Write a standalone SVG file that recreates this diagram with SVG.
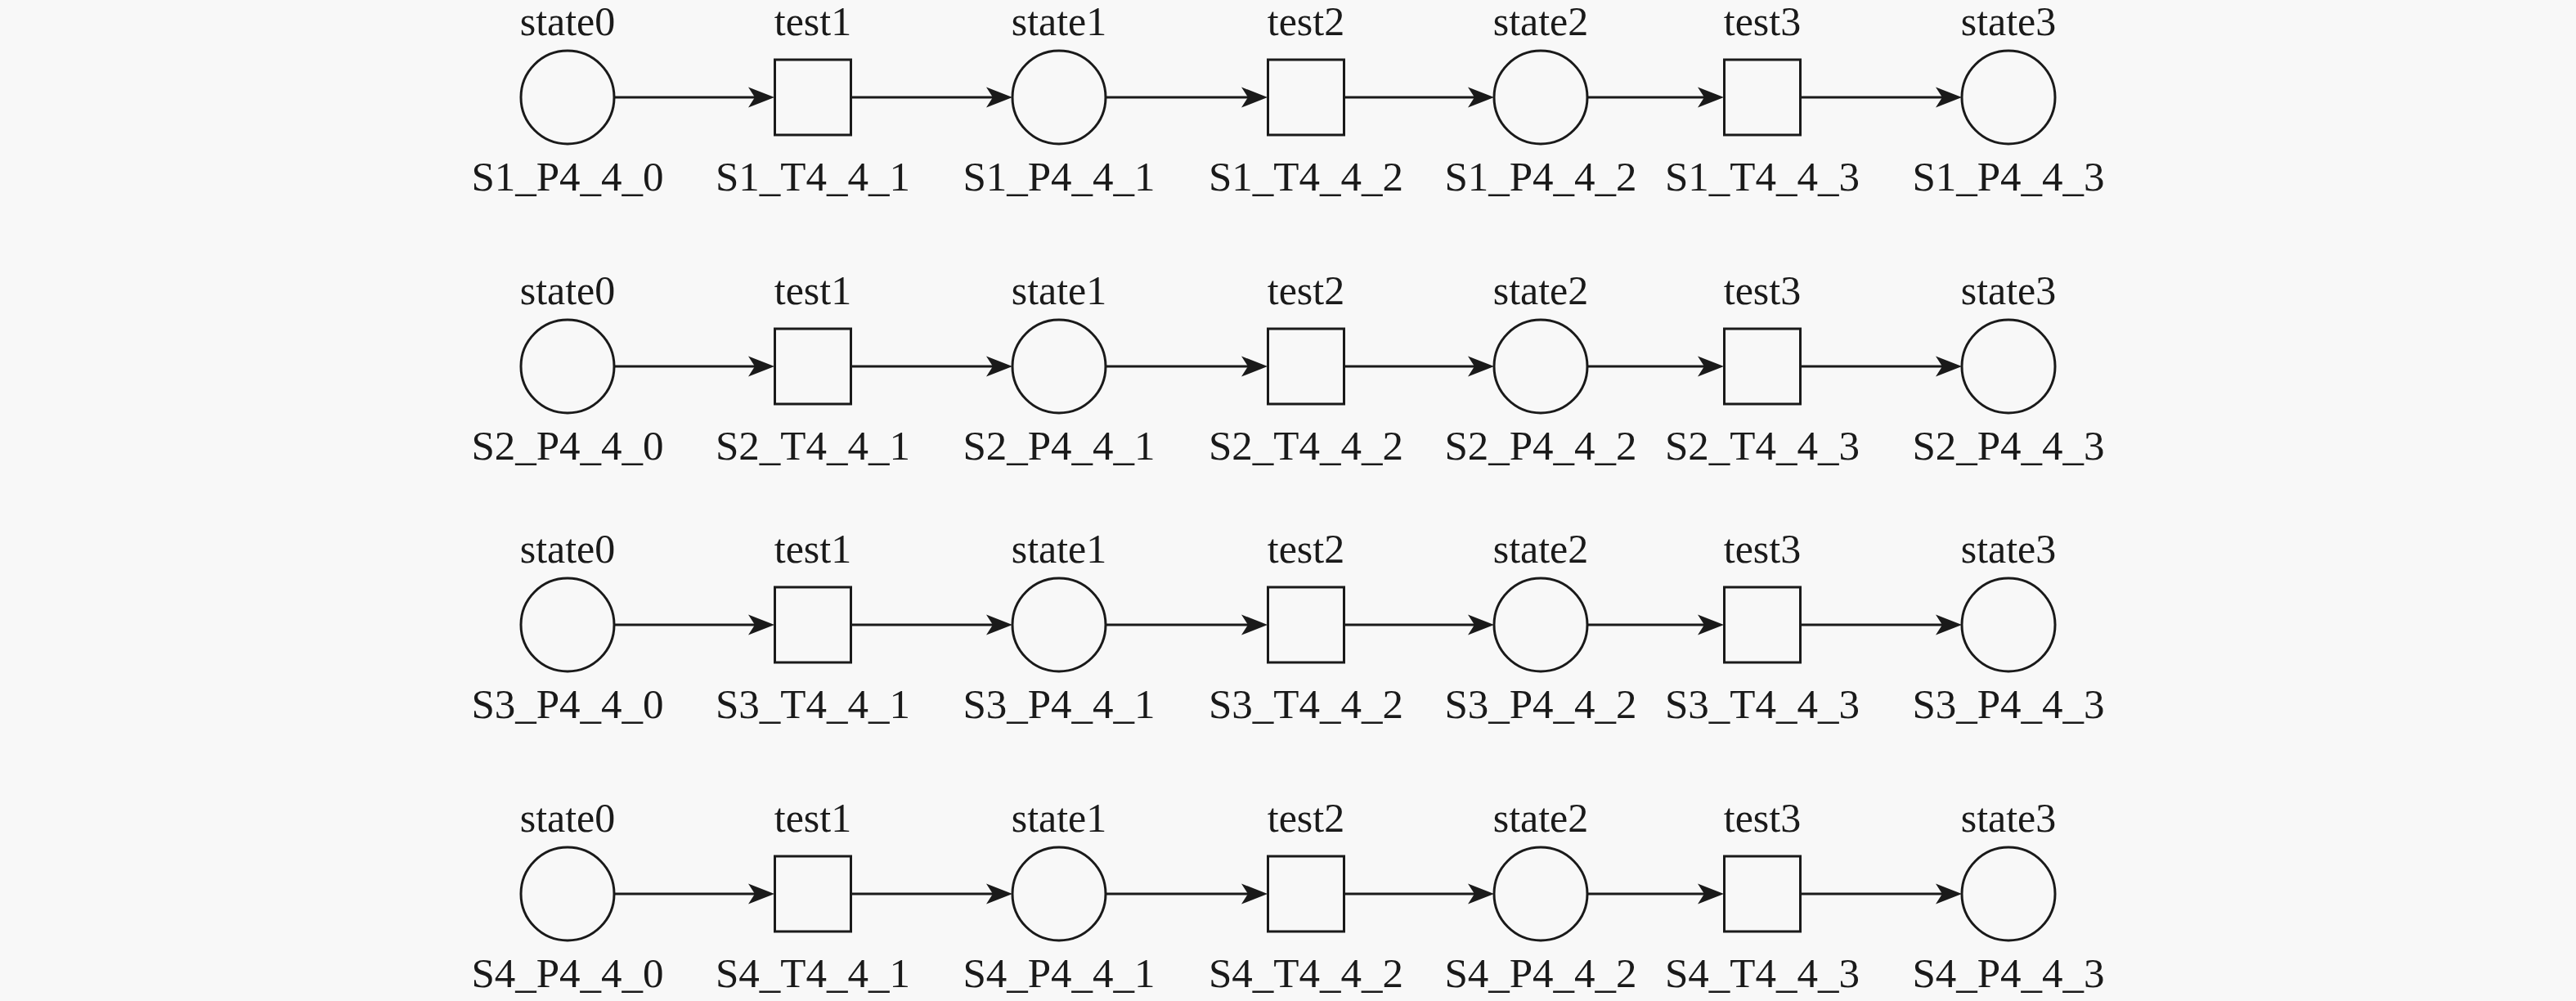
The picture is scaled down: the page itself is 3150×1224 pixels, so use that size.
<svg xmlns="http://www.w3.org/2000/svg" width="3150" height="1224" viewBox="0 0 3150 1224">
<style>
.bg{fill:#f8f8f8}
.place{fill:none;stroke:#1a1a1a;stroke-width:3}
.trans{fill:none;stroke:#1a1a1a;stroke-width:3}
.edge{stroke:#1a1a1a;stroke-width:3;fill:none}
text{font-family:"Liberation Serif","Times New Roman",serif;fill:#1a1a1a;text-anchor:middle}
.top{font-size:50px}
.bot{font-size:51px}
</style>
<defs>
<marker id="arr" markerUnits="userSpaceOnUse" markerWidth="34" markerHeight="27" refX="12" refY="12.5" orient="auto" overflow="visible">
<path d="M0,0 L32,12.5 L0,25 L8,12.5 Z" fill="#1a1a1a"/>
</marker>
</defs>
<rect class="bg" x="0" y="0" width="3150" height="1224"/>

<g id="connectors">
<line class="edge" x1="751" y1="119" x2="927" y2="119" marker-end="url(#arr)"/>
<line class="edge" x1="1040" y1="119" x2="1218" y2="119" marker-end="url(#arr)"/>
<line class="edge" x1="1352" y1="119" x2="1530" y2="119" marker-end="url(#arr)"/>
<line class="edge" x1="1643" y1="119" x2="1807" y2="119" marker-end="url(#arr)"/>
<line class="edge" x1="1941" y1="119" x2="2088" y2="119" marker-end="url(#arr)"/>
<line class="edge" x1="2201" y1="119" x2="2379" y2="119" marker-end="url(#arr)"/>

<line class="edge" x1="751" y1="448" x2="927" y2="448" marker-end="url(#arr)"/>
<line class="edge" x1="1040" y1="448" x2="1218" y2="448" marker-end="url(#arr)"/>
<line class="edge" x1="1352" y1="448" x2="1530" y2="448" marker-end="url(#arr)"/>
<line class="edge" x1="1643" y1="448" x2="1807" y2="448" marker-end="url(#arr)"/>
<line class="edge" x1="1941" y1="448" x2="2088" y2="448" marker-end="url(#arr)"/>
<line class="edge" x1="2201" y1="448" x2="2379" y2="448" marker-end="url(#arr)"/>

<line class="edge" x1="751" y1="764" x2="927" y2="764" marker-end="url(#arr)"/>
<line class="edge" x1="1040" y1="764" x2="1218" y2="764" marker-end="url(#arr)"/>
<line class="edge" x1="1352" y1="764" x2="1530" y2="764" marker-end="url(#arr)"/>
<line class="edge" x1="1643" y1="764" x2="1807" y2="764" marker-end="url(#arr)"/>
<line class="edge" x1="1941" y1="764" x2="2088" y2="764" marker-end="url(#arr)"/>
<line class="edge" x1="2201" y1="764" x2="2379" y2="764" marker-end="url(#arr)"/>

<line class="edge" x1="751" y1="1093" x2="927" y2="1093" marker-end="url(#arr)"/>
<line class="edge" x1="1040" y1="1093" x2="1218" y2="1093" marker-end="url(#arr)"/>
<line class="edge" x1="1352" y1="1093" x2="1530" y2="1093" marker-end="url(#arr)"/>
<line class="edge" x1="1643" y1="1093" x2="1807" y2="1093" marker-end="url(#arr)"/>
<line class="edge" x1="1941" y1="1093" x2="2088" y2="1093" marker-end="url(#arr)"/>
<line class="edge" x1="2201" y1="1093" x2="2379" y2="1093" marker-end="url(#arr)"/>
</g>

<!-- Row 1 -->
<g id="S1_P4_4_0"><circle class="place" cx="694" cy="119" r="57"/><text class="top" x="694" y="43">state0</text><text class="bot" x="694" y="233">S1_P4_4_0</text></g>
<g id="S1_T4_4_1"><rect class="trans" x="947.5" y="73" width="93" height="92"/><text class="top" x="994" y="43">test1</text><text class="bot" x="994" y="233">S1_T4_4_1</text></g>
<g id="S1_P4_4_1"><circle class="place" cx="1295" cy="119" r="57"/><text class="top" x="1295" y="43">state1</text><text class="bot" x="1295" y="233">S1_P4_4_1</text></g>
<g id="S1_T4_4_2"><rect class="trans" x="1550.5" y="73" width="93" height="92"/><text class="top" x="1597" y="43">test2</text><text class="bot" x="1597" y="233">S1_T4_4_2</text></g>
<g id="S1_P4_4_2"><circle class="place" cx="1884" cy="119" r="57"/><text class="top" x="1884" y="43">state2</text><text class="bot" x="1884" y="233">S1_P4_4_2</text></g>
<g id="S1_T4_4_3"><rect class="trans" x="2108.5" y="73" width="93" height="92"/><text class="top" x="2155" y="43">test3</text><text class="bot" x="2155" y="233">S1_T4_4_3</text></g>
<g id="S1_P4_4_3"><circle class="place" cx="2456" cy="119" r="57"/><text class="top" x="2456" y="43">state3</text><text class="bot" x="2456" y="233">S1_P4_4_3</text></g>

<!-- Row 2 -->
<g id="S2_P4_4_0"><circle class="place" cx="694" cy="448" r="57"/><text class="top" x="694" y="372">state0</text><text class="bot" x="694" y="562">S2_P4_4_0</text></g>
<g id="S2_T4_4_1"><rect class="trans" x="947.5" y="402" width="93" height="92"/><text class="top" x="994" y="372">test1</text><text class="bot" x="994" y="562">S2_T4_4_1</text></g>
<g id="S2_P4_4_1"><circle class="place" cx="1295" cy="448" r="57"/><text class="top" x="1295" y="372">state1</text><text class="bot" x="1295" y="562">S2_P4_4_1</text></g>
<g id="S2_T4_4_2"><rect class="trans" x="1550.5" y="402" width="93" height="92"/><text class="top" x="1597" y="372">test2</text><text class="bot" x="1597" y="562">S2_T4_4_2</text></g>
<g id="S2_P4_4_2"><circle class="place" cx="1884" cy="448" r="57"/><text class="top" x="1884" y="372">state2</text><text class="bot" x="1884" y="562">S2_P4_4_2</text></g>
<g id="S2_T4_4_3"><rect class="trans" x="2108.5" y="402" width="93" height="92"/><text class="top" x="2155" y="372">test3</text><text class="bot" x="2155" y="562">S2_T4_4_3</text></g>
<g id="S2_P4_4_3"><circle class="place" cx="2456" cy="448" r="57"/><text class="top" x="2456" y="372">state3</text><text class="bot" x="2456" y="562">S2_P4_4_3</text></g>

<!-- Row 3 -->
<g id="S3_P4_4_0"><circle class="place" cx="694" cy="764" r="57"/><text class="top" x="694" y="688">state0</text><text class="bot" x="694" y="878">S3_P4_4_0</text></g>
<g id="S3_T4_4_1"><rect class="trans" x="947.5" y="718" width="93" height="92"/><text class="top" x="994" y="688">test1</text><text class="bot" x="994" y="878">S3_T4_4_1</text></g>
<g id="S3_P4_4_1"><circle class="place" cx="1295" cy="764" r="57"/><text class="top" x="1295" y="688">state1</text><text class="bot" x="1295" y="878">S3_P4_4_1</text></g>
<g id="S3_T4_4_2"><rect class="trans" x="1550.5" y="718" width="93" height="92"/><text class="top" x="1597" y="688">test2</text><text class="bot" x="1597" y="878">S3_T4_4_2</text></g>
<g id="S3_P4_4_2"><circle class="place" cx="1884" cy="764" r="57"/><text class="top" x="1884" y="688">state2</text><text class="bot" x="1884" y="878">S3_P4_4_2</text></g>
<g id="S3_T4_4_3"><rect class="trans" x="2108.5" y="718" width="93" height="92"/><text class="top" x="2155" y="688">test3</text><text class="bot" x="2155" y="878">S3_T4_4_3</text></g>
<g id="S3_P4_4_3"><circle class="place" cx="2456" cy="764" r="57"/><text class="top" x="2456" y="688">state3</text><text class="bot" x="2456" y="878">S3_P4_4_3</text></g>

<!-- Row 4 -->
<g id="S4_P4_4_0"><circle class="place" cx="694" cy="1093" r="57"/><text class="top" x="694" y="1017">state0</text><text class="bot" x="694" y="1207">S4_P4_4_0</text></g>
<g id="S4_T4_4_1"><rect class="trans" x="947.5" y="1047" width="93" height="92"/><text class="top" x="994" y="1017">test1</text><text class="bot" x="994" y="1207">S4_T4_4_1</text></g>
<g id="S4_P4_4_1"><circle class="place" cx="1295" cy="1093" r="57"/><text class="top" x="1295" y="1017">state1</text><text class="bot" x="1295" y="1207">S4_P4_4_1</text></g>
<g id="S4_T4_4_2"><rect class="trans" x="1550.5" y="1047" width="93" height="92"/><text class="top" x="1597" y="1017">test2</text><text class="bot" x="1597" y="1207">S4_T4_4_2</text></g>
<g id="S4_P4_4_2"><circle class="place" cx="1884" cy="1093" r="57"/><text class="top" x="1884" y="1017">state2</text><text class="bot" x="1884" y="1207">S4_P4_4_2</text></g>
<g id="S4_T4_4_3"><rect class="trans" x="2108.5" y="1047" width="93" height="92"/><text class="top" x="2155" y="1017">test3</text><text class="bot" x="2155" y="1207">S4_T4_4_3</text></g>
<g id="S4_P4_4_3"><circle class="place" cx="2456" cy="1093" r="57"/><text class="top" x="2456" y="1017">state3</text><text class="bot" x="2456" y="1207">S4_P4_4_3</text></g>
</svg>
